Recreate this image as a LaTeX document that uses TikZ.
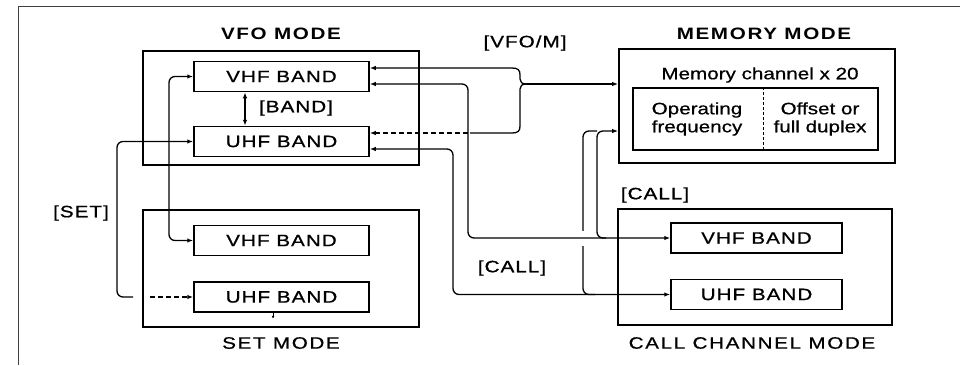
\documentclass[tikz,border=0pt]{standalone}
\usepackage{graphicx}
\usepackage{fontspec}
\setmainfont{Liberation Sans}
\newfontfamily\lblf[LetterSpace=5,FakeBold=0.8]{Liberation Sans}
\newfontfamily\ttlf[LetterSpace=8]{Liberation Sans}
\newfontfamily\ttlrf[LetterSpace=8,FakeBold=0.6]{Liberation Sans}
\newfontfamily\txtf[FakeBold=0.6]{Liberation Sans}
\newcommand\stx[1]{\scalebox{1.25}[1]{#1}}
\usetikzlibrary{arrows.meta,calc}
\begin{document}
\begin{tikzpicture}[x=1pt,y=-1pt,
  >={Latex[length=6pt,width=4.5pt]},
  outerbox/.style={draw, line width=1.8pt, minimum width=276pt, minimum height=114pt, inner sep=0pt},
  bandbox/.style={draw, line width=1.5pt, minimum width=175pt, minimum height=30pt, inner sep=0pt, font=\lblf\fontsize{16.5pt}{19pt}\selectfont},
  keylbl/.style={inner sep=0pt, font=\lblf\fontsize{16.5pt}{19pt}\selectfont},
  ttl/.style={inner sep=0pt, font=\ttlf\fontsize{16.5pt}{19pt}\selectfont\bfseries},
  ttlr/.style={inner sep=0pt, font=\ttlrf\fontsize{16.5pt}{19pt}\selectfont},
  txt/.style={inner sep=0pt, align=center, font=\txtf\fontsize{16.5pt}{18pt}\selectfont},
  conn/.style={line width=1.3pt, rounded corners=6pt},
  brc/.style={line width=1.3pt}
]
\useasboundingbox (0,0) rectangle (960,365);
% frame
\draw[line width=0.8pt, black!75] (18,365) -- (18,6) -- (960,6);

% VFO mode
\node[outerbox] (vfo) at (281,108) {};
\node[bandbox] (vvhf) at (281.5,76.5) {\stx{VHF\ BAND}};
\node[bandbox] (vuhf) at (281.5,141.5) {\stx{UHF\ BAND}};
\node[ttl] (vfot) at (281,34) {\stx{VFO MODE}};

% SET mode
\node[outerbox, minimum height=117pt] (set) at (281,268.5) {};
\node[bandbox] (svhf) at (281.5,240.5) {\stx{VHF\ BAND}};
\node[bandbox] (suhf) at (281.5,297) {\stx{UHF\ BAND}};
\node[ttlr] (sett) at (281,343) {\stx{SET MODE}};

% Memory mode
\node[outerbox] (mem) at (757,106) {};
\node[ttl] (memt) at (764,34) {\stx{MEMORY MODE}};
\node[txt] (memc) at (760,75) {\stx{Memory channel x 20}};
\node[draw, line width=1.5pt, minimum width=245pt, minimum height=62pt, inner sep=0pt] (mi) at (755.5,119) {};
\draw[line width=1pt, dash pattern=on 3pt off 2pt] ($(mi.north)+(7.5,0)$) -- ($(mi.south)+(7.5,0)$);
\node[txt] (op) at (697,119) {\stx{Operating}\\\stx{frequency}};
\node[txt] (of) at (820,119) {\stx{Offset or}\\\stx{full duplex}};

% Call channel mode
\node[outerbox, minimum width=274pt, minimum height=116pt] (call) at (755,267) {};
\node[bandbox, minimum width=171pt] (cvhf) at (756.5,238) {\stx{VHF\ BAND}};
\node[bandbox, minimum width=171pt] (cuhf) at (756.5,294.5) {\stx{UHF\ BAND}};
\node[ttlr] (callt) at (752,343) {\stx{CALL CHANNEL MODE}};

% key labels
\node[keylbl] (kband) at (296,108) {\stx{[BAND]}};
\node[keylbl] (kset) at (81,213) {\stx{[SET]}};
\node[keylbl] (kvfom) at (525,43) {\stx{[VFO/M]}};
\node[keylbl] (kcall1) at (655,195) {\stx{[CALL]}};
\node[keylbl] (kcall2) at (512,268) {\stx{[CALL]}};

% [BAND]
\draw[brc,<->] ($(vvhf.south)+(-36.5,0)$) -- ($(vuhf.north)+(-36.5,0)$);

% VFO <-> SET
\draw[conn,<->] (vvhf.west) -- (169,76.5) -- (169,240.5) -- (svhf.west);
\draw[conn,<-] (vuhf.west) -- (117,141.5) -- (117,297) -- (133,297);
\draw[brc,->, dash pattern=on 5pt off 3pt] (150,297) -- (suhf.west);
\draw[line width=1pt,-{Latex[length=3pt,width=3pt]}] ($(suhf.south)+(-8.5,0)$) -- ++(0,6);

% VFO <-> Memory (brace)
\coordinate (bp) at (526,84);
\draw[brc,<-] ($(vvhf.east)+(0,-8.5)$) -- (512,68) .. controls (518,68) and (520,70) .. (520,75) -- (520,79) .. controls (520,82) and (522,84) .. (bp);
\draw[brc,<-, dash pattern=on 5pt off 3pt] ($(vuhf.east)+(0,-8.5)$) -- (470,133);
\draw[brc] (470,133) -- (512,133) .. controls (518,133) and (520,131) .. (520,126) -- (520,89) .. controls (520,86) and (522,84) .. (bp);
\draw[brc,->] (bp) -- (bp -| mem.west);

% Call -> Memory
\coordinate (mb) at ($(mem.west)+(0,25)$);
\draw[conn] (595,294.5) -| (583,131) -- (597,131);
\fill[white] (580,231) rectangle (586,246);
\draw[conn,->] (606,238) -| (597,131) -- (mb);

% VFO <-> Call
\draw[conn,<->] ($(vvhf.east)+(0,7.5)$) -- (468,84) -- (468,238) -- (cvhf.west);
\draw[conn,<->] ($(vuhf.east)+(0,7.5)$) -- (453,149) -- (453,294.5) -- (cuhf.west);
\end{tikzpicture}
\end{document}
